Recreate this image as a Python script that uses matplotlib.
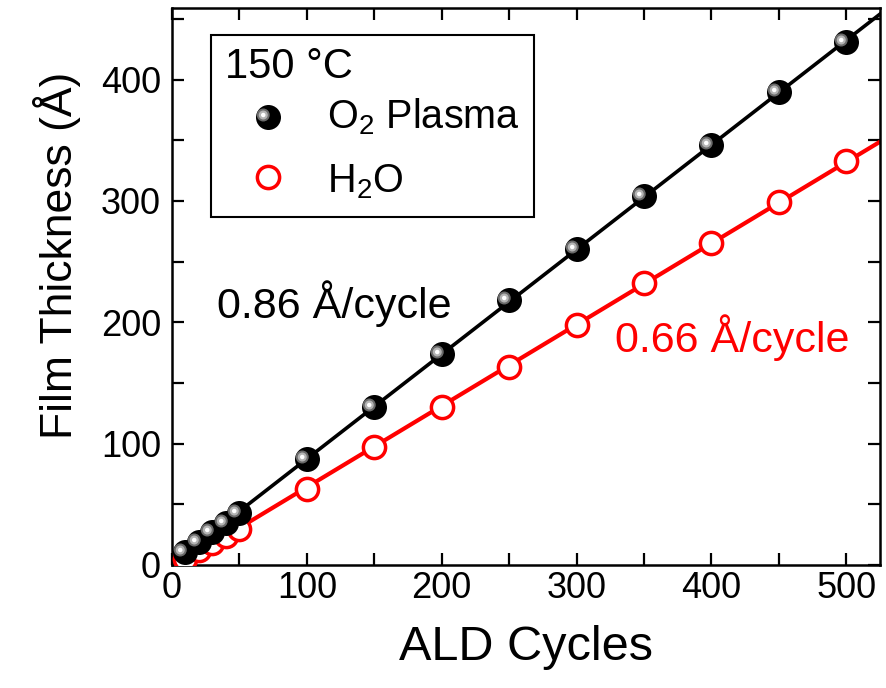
import matplotlib
matplotlib.use("Agg")
import matplotlib.pyplot as plt
import numpy as np
from matplotlib.path import Path
from matplotlib.patches import Rectangle
from matplotlib.ticker import MultipleLocator

plt.rcParams['font.family'] = ['Liberation Sans', 'DejaVu Sans']
plt.rcParams['mathtext.fontset'] = 'custom'
plt.rcParams['mathtext.rm'] = 'Liberation Sans'
plt.rcParams['mathtext.it'] = 'Liberation Sans'

# data
cycles = [10, 20, 30, 40, 50, 100, 150, 200, 250, 300, 350, 400, 450, 500]
o2_plasma = [11, 19, 27, 35, 43, 87, 130, 174, 218, 260, 304, 346, 390, 431]
h2o = [5, 12, 18, 24, 30, 63, 97, 130, 163, 198, 232, 265, 299, 333]
rate_labels = ["0.86 Å/cycle", "0.66 Å/cycle"]


def offset_circle(cx, cy, r):
    # circle marker off the marker centre; the lone MOVETO keeps the scale fixed
    circ = Path.circle((cx, cy), r)
    verts = np.vstack([[[1.0, 1.0]], circ.vertices])
    codes = np.concatenate([[Path.MOVETO], circ.codes])
    return Path(verts, codes)


hl_outer = offset_circle(-0.42, 0.2, 0.52)
hl_mid = offset_circle(-0.42, 0.2, 0.36)
hl_inner = offset_circle(-0.42, 0.2, 0.18)


def sphere(ax, x, y, ms=18, **kw):
    ax.plot(x, y, ls='none', marker='o', ms=ms, mfc='black', mec='black', mew=0, zorder=4, **kw)
    ax.plot(x, y, ls='none', marker=hl_outer, ms=ms, mfc='#6a6a6a', mew=0, zorder=5, **kw)
    ax.plot(x, y, ls='none', marker=hl_mid, ms=ms, mfc='#b4b4b4', mew=0, zorder=5, **kw)
    ax.plot(x, y, ls='none', marker=hl_inner, ms=ms, mfc='white', mew=0, zorder=5, **kw)


fig = plt.figure(figsize=(8.87, 6.88), dpi=100)
ax = fig.add_axes([172 / 887, 1 - 565 / 688, 708 / 887, 557 / 688])

x_fit = np.linspace(0, 525, 50)
k_b, b_b = np.polyfit(cycles, o2_plasma, 1)
k_r, b_r = np.polyfit(cycles, h2o, 1)
ax.plot(x_fit, k_r * x_fit + b_r, color='red', lw=3.0, zorder=2)
ax.plot(x_fit, k_b * x_fit + b_b, color='black', lw=2.6, zorder=2)

ax.plot(cycles, h2o, ls='none', marker='o', ms=16, mfc='white', mec='red', mew=2.5, zorder=3)
sphere(ax, cycles, o2_plasma)

ax.set_xlim(0, 525)
ax.set_ylim(0, 459)
ax.xaxis.set_major_locator(MultipleLocator(100))
ax.xaxis.set_minor_locator(MultipleLocator(50))
ax.yaxis.set_major_locator(MultipleLocator(100))
ax.yaxis.set_minor_locator(MultipleLocator(50))
ax.tick_params(which='both', direction='in', top=True, right=True, length=8.5, width=1.6)
ax.tick_params(axis='x', labelsize=26, pad=4)
ax.tick_params(axis='y', labelsize=26, pad=8)
for s in ax.spines.values():
    s.set_linewidth(1.8)

ax.set_xlabel("ALD Cycles", fontsize=35, labelpad=14)
ax.set_ylabel("Film Thickness (Å)", fontsize=32)
ax.yaxis.set_label_coords(-0.1285, 0.555)

ax.text(33.4, 203.6, rate_labels[0], fontsize=31, color='black', va='baseline')
ax.text(328.6, 175.6, rate_labels[1], fontsize=31, color='red', va='baseline')

# legend box drawn by hand
ax.add_patch(Rectangle((0.0551, 0.6248), 0.4562, 0.3268, transform=ax.transAxes,
                       fill=False, ec='black', lw=1.5, zorder=6))
ax.text(0.0749, 0.8743, "150 °C", transform=ax.transAxes, fontsize=30, va='baseline')
sphere(ax, [0.1356], [0.8043], transform=ax.transAxes, clip_on=False)
ax.plot([0.1356], [0.6966], ls='none', marker='o', ms=16, mfc='white', mec='red', mew=2.5,
        transform=ax.transAxes, zorder=5)
ax.text(0.2189, 0.7846, r"O$_2$ Plasma", transform=ax.transAxes, fontsize=28.5, va='baseline')
ax.text(0.2189, 0.6697, r"H$_2$O", transform=ax.transAxes, fontsize=28.5, va='baseline')

fig.savefig("out.png", dpi=100)
